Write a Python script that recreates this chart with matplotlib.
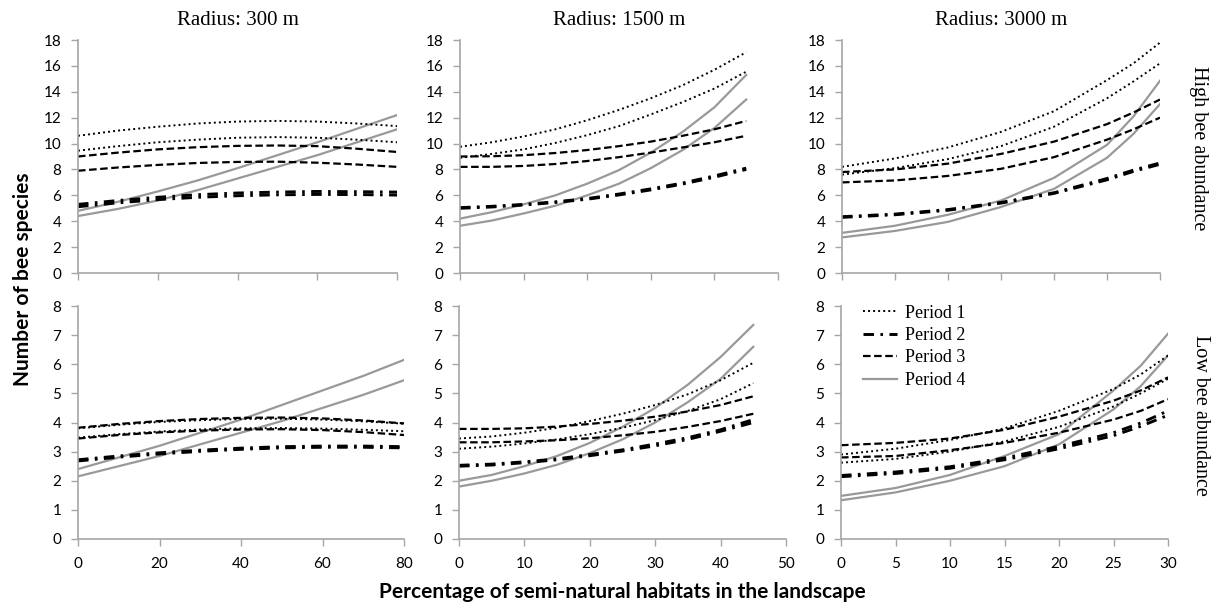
import numpy as np
import matplotlib
matplotlib.use("Agg")
import matplotlib.pyplot as plt

# x positions (% semi-natural habitats)
x_300 = [0, 10, 20, 30, 40, 50, 60, 70, 80]
x_1500 = [0, 5, 10, 15, 20, 25, 30, 35, 40, 45]
x_3000 = [0, 5, 10, 15, 20, 25, 27.5, 30]

# High bee abundance, radius 300 m (two curves per period)
hi300_p1 = [[10.6, 11.0, 11.3, 11.55, 11.7, 11.75, 11.7, 11.55, 11.35],
            [9.45, 9.8, 10.1, 10.3, 10.45, 10.5, 10.45, 10.3, 10.1]]
hi300_p2 = [[5.3, 5.6, 5.85, 6.05, 6.18, 6.25, 6.3, 6.28, 6.25],
            [5.12, 5.42, 5.67, 5.85, 5.97, 6.04, 6.07, 6.06, 6.02]]
hi300_p3 = [[9.0, 9.3, 9.55, 9.72, 9.82, 9.85, 9.8, 9.6, 9.35],
            [7.9, 8.15, 8.35, 8.5, 8.58, 8.6, 8.52, 8.38, 8.2]]
hi300_p4 = [[4.8, 5.5, 6.3, 7.15, 8.1, 9.1, 10.1, 11.15, 12.2],
            [4.4, 4.95, 5.6, 6.4, 7.3, 8.2, 9.1, 10.1, 11.1]]

# High bee abundance, radius 1500 m
hi1500_p1 = [[9.75, 10.1, 10.55, 11.1, 11.8, 12.6, 13.5, 14.5, 15.7, 17.05],
             [8.9, 9.2, 9.55, 10.05, 10.65, 11.35, 12.25, 13.2, 14.25, 15.55]]
hi1500_p2 = [[5.05, 5.15, 5.3, 5.5, 5.75, 6.1, 6.5, 6.95, 7.5, 8.1],
             [5.0, 5.1, 5.25, 5.45, 5.7, 6.03, 6.42, 6.87, 7.4, 8.0]]
hi1500_p3 = [[9.0, 9.02, 9.1, 9.27, 9.5, 9.8, 10.15, 10.6, 11.1, 11.75],
             [8.2, 8.2, 8.27, 8.42, 8.65, 8.95, 9.3, 9.7, 10.1, 10.6]]
hi1500_p4 = [[4.2, 4.7, 5.3, 6.0, 6.9, 7.95, 9.3, 10.9, 12.8, 15.3],
             [3.65, 4.05, 4.6, 5.2, 6.0, 6.9, 8.1, 9.5, 11.2, 13.4]]

# High bee abundance, radius 3000 m
hi3000_p1 = [[8.2, 8.85, 9.7, 10.9, 12.5, 14.9, 16.2, 17.8],
             [7.6, 8.1, 8.8, 9.8, 11.3, 13.5, 14.8, 16.2]]
hi3000_p2 = [[4.35, 4.55, 4.9, 5.45, 6.2, 7.3, 7.95, 8.5],
             [4.3, 4.5, 4.85, 5.4, 6.15, 7.2, 7.85, 8.4]]
hi3000_p3 = [[7.8, 8.0, 8.45, 9.2, 10.15, 11.5, 12.4, 13.4],
             [7.0, 7.15, 7.5, 8.05, 8.95, 10.3, 11.1, 12.0]]
hi3000_p4 = [[3.1, 3.65, 4.5, 5.6, 7.35, 9.9, 12.1, 14.85],
             [2.75, 3.25, 3.95, 5.1, 6.5, 8.9, 10.75, 13.05]]

# Low bee abundance, radius 300 m
lo300_p1 = [[3.8, 3.92, 4.02, 4.08, 4.12, 4.13, 4.1, 4.04, 3.96],
            [3.48, 3.6, 3.69, 3.76, 3.8, 3.81, 3.79, 3.75, 3.7]]
lo300_p2 = [[2.72, 2.85, 2.96, 3.05, 3.12, 3.17, 3.19, 3.19, 3.17],
            [2.68, 2.81, 2.92, 3.01, 3.08, 3.13, 3.15, 3.15, 3.13]]
lo300_p3 = [[3.82, 3.95, 4.05, 4.12, 4.16, 4.17, 4.14, 4.07, 3.97],
            [3.45, 3.57, 3.66, 3.72, 3.76, 3.77, 3.74, 3.67, 3.57]]
lo300_p4 = [[2.4, 2.8, 3.2, 3.65, 4.1, 4.6, 5.1, 5.6, 6.15],
            [2.15, 2.5, 2.85, 3.25, 3.65, 4.05, 4.5, 4.95, 5.45]]

# Low bee abundance, radius 1500 m
lo1500_p1 = [[3.45, 3.52, 3.65, 3.82, 4.05, 4.3, 4.6, 4.97, 5.45, 6.05],
             [3.1, 3.17, 3.28, 3.42, 3.6, 3.82, 4.08, 4.4, 4.8, 5.35]]
lo1500_p2 = [[2.53, 2.57, 2.65, 2.75, 2.9, 3.06, 3.26, 3.48, 3.75, 4.1],
             [2.5, 2.54, 2.62, 2.72, 2.86, 3.02, 3.2, 3.42, 3.7, 4.0]]
lo1500_p3 = [[3.78, 3.78, 3.8, 3.86, 3.95, 4.06, 4.2, 4.38, 4.6, 4.9],
             [3.32, 3.32, 3.35, 3.39, 3.46, 3.56, 3.68, 3.85, 4.05, 4.3]]
lo1500_p4 = [[2.0, 2.2, 2.5, 2.85, 3.3, 3.85, 4.5, 5.3, 6.25, 7.35],
             [1.8, 2.0, 2.25, 2.55, 2.95, 3.42, 4.0, 4.7, 5.5, 6.6]]

# Low bee abundance, radius 3000 m
lo3000_p1 = [[2.9, 3.1, 3.4, 3.8, 4.4, 5.15, 5.65, 6.3],
             [2.62, 2.75, 3.0, 3.35, 3.85, 4.55, 5.0, 5.5]]
lo3000_p2 = [[2.18, 2.3, 2.48, 2.78, 3.18, 3.65, 3.98, 4.4],
             [2.14, 2.25, 2.43, 2.72, 3.1, 3.55, 3.87, 4.25]]
lo3000_p3 = [[3.22, 3.3, 3.45, 3.75, 4.2, 4.75, 5.1, 5.55],
             [2.8, 2.85, 3.05, 3.3, 3.65, 4.1, 4.4, 4.8]]
lo3000_p4 = [[1.48, 1.75, 2.2, 2.85, 3.6, 5.1, 5.95, 7.05],
             [1.33, 1.6, 2.0, 2.5, 3.25, 4.45, 5.25, 6.3]]

titles = ["Radius: 300 m", "Radius: 1500 m", "Radius: 3000 m"]
row_labels = ["High bee abundance", "Low bee abundance"]
period_labels = ["Period 1", "Period 2", "Period 3", "Period 4"]

SERIF = "Liberation Serif"
SANS = "Lato"
SPINE = "#a6a6a6"

# line styles per period
styles = [
    dict(color="black", lw=1.4, linestyle=(0, (1, 1.6))),
    dict(color="black", lw=2.1, linestyle=(0, (3.6, 2.2, 0.9, 2.2))),
    dict(color="black", lw=1.6, linestyle=(0, (3.4, 1.6))),
    dict(color="#999999", lw=1.6, linestyle="-"),
]

fig = plt.figure(figsize=(12.24, 6.07), dpi=100)
W, H = 1224, 607


def add_axes(x0, x1, ytop, ybot):
    return fig.add_axes([x0 / W, 1 - ybot / H, (x1 - x0) / W, (ybot - ytop) / H])


top_pos = [(78, 397), (460, 778), (842, 1160)]
bot_pos = [(78, 404), (459, 786), (841, 1168)]

panels = [
    (x_300, [hi300_p1, hi300_p2, hi300_p3, hi300_p4], [lo300_p1, lo300_p2, lo300_p3, lo300_p4], 80, 20),
    (x_1500, [hi1500_p1, hi1500_p2, hi1500_p3, hi1500_p4], [lo1500_p1, lo1500_p2, lo1500_p3, lo1500_p4], 50, 10),
    (x_3000, [hi3000_p1, hi3000_p2, hi3000_p3, hi3000_p4], [lo3000_p1, lo3000_p2, lo3000_p3, lo3000_p4], 30, 5),
]


def style_axes(ax, xmax, xstep, ymax, ystep, show_xlabels):
    ax.set_xlim(0, xmax)
    ax.set_ylim(0, ymax)
    ax.set_xticks(np.arange(0, xmax + 0.1, xstep))
    ax.set_yticks(np.arange(0, ymax + 0.1, ystep))
    for s in ["top", "right"]:
        ax.spines[s].set_visible(False)
    for s in ["left", "bottom"]:
        ax.spines[s].set_color(SPINE)
        ax.spines[s].set_linewidth(1.2)
    ax.tick_params(direction="out", length=5, width=1.0, color=SPINE, labelsize=11)
    ax.tick_params(axis="y", pad=7)
    ax.tick_params(axis="x", pad=8)
    for lab in ax.get_xticklabels() + ax.get_yticklabels():
        lab.set_fontfamily(SANS)
    if not show_xlabels:
        ax.set_xticklabels([])
    ax.patch.set_alpha(0)


legend_handles = []
for i, (xs, hi, lo, xmax, xstep) in enumerate(panels):
    ax_hi = add_axes(top_pos[i][0], top_pos[i][1], 40, 273)
    ax_lo = add_axes(bot_pos[i][0], bot_pos[i][1], 306, 539)
    # period 4 first so the black lines sit above the gray ones
    for k in [3, 2, 1, 0]:
        for curve in hi[k]:
            ax_hi.plot(xs, curve, **styles[k])
        for j, curve in enumerate(lo[k]):
            h, = ax_lo.plot(xs, curve, **styles[k])
            if i == 2 and j == 0:
                legend_handles.append((k, h))
    style_axes(ax_hi, xmax, xstep, 18, 2, False)
    style_axes(ax_lo, xmax, xstep, 8, 1, True)
    ax_hi.set_title(titles[i], fontfamily=SERIF, fontsize=15, pad=11)
    if i == 2:
        ax_hi.text(1.12, 0.535, row_labels[0], transform=ax_hi.transAxes,
                   rotation=-90, ha="center", va="center",
                   fontfamily=SERIF, fontsize=14.5)
        ax_lo.text(1.098, 0.53, row_labels[1], transform=ax_lo.transAxes,
                   rotation=-90, ha="center", va="center",
                   fontfamily=SERIF, fontsize=14.5)
        legend_handles.sort(key=lambda t: t[0])
        ax_lo.legend([h for _, h in legend_handles], period_labels,
                     loc="upper left", bbox_to_anchor=(0.045, 1.037),
                     frameon=False, handlelength=1.9, handletextpad=0.45,
                     labelspacing=0.3, borderaxespad=0,
                     prop={"family": SERIF, "size": 13})

fig.text(23 / W, 1 - 279 / H, "Number of bee species", rotation=90,
         ha="center", va="center", fontfamily=SANS, fontweight="bold", fontsize=15)
fig.text(622 / W, 1 - 592 / H, "Percentage of semi-natural habitats in the landscape",
         ha="center", va="center", fontfamily=SANS, fontweight="bold", fontsize=15)

fig.savefig("out.png", dpi=100)
